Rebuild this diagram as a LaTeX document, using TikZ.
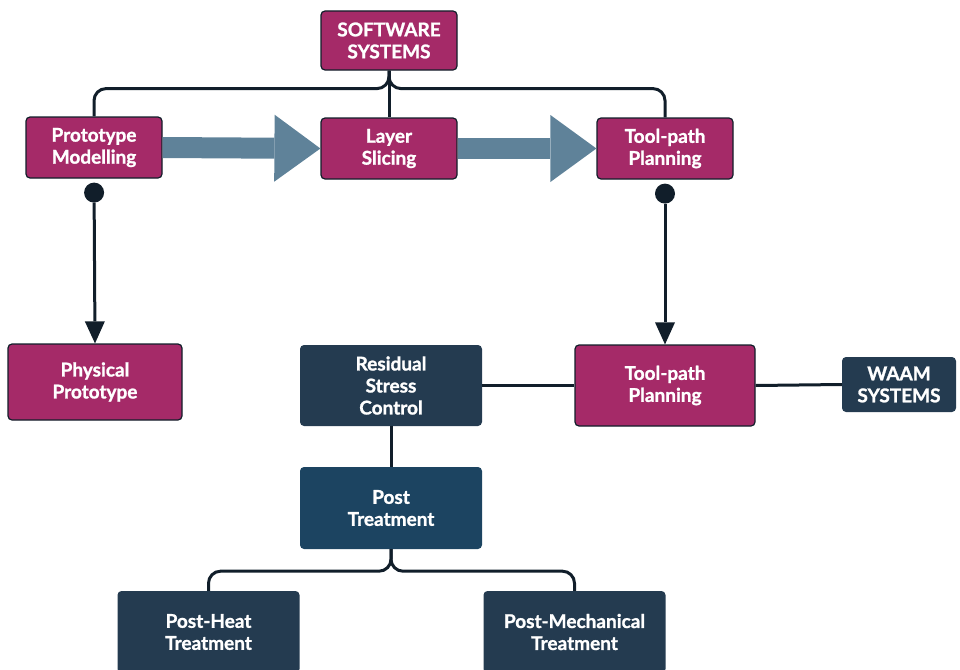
\documentclass[tikz,border=0pt]{standalone}
\usepackage{fontspec}
\setmainfont{Lato}[BoldFeatures={FakeBold=1.2}]
\definecolor{plum}{HTML}{A52A68}
\definecolor{navy}{HTML}{243B50}
\definecolor{deepblue}{HTML}{1C4461}
\definecolor{steel}{HTML}{5F8299}
\definecolor{inkline}{HTML}{111E2A}
\usetikzlibrary{arrows.meta, positioning}

\begin{document}
\begin{tikzpicture}[x=1pt, y=-1pt,
  every node/.style={font=\fontsize{19}{22}\selectfont\bfseries, text=white, align=center},
  softbox/.style={draw=inkline, line width=1.2pt, fill=plum, rounded corners=4pt,
                  minimum width=136pt, minimum height=61pt, inner sep=0pt},
  waambox/.style={fill=navy, rounded corners=4pt,
                  minimum width=182pt, minimum height=81pt, inner sep=0pt},
  link/.style={draw=inkline, line width=3pt},
  flow/.style={draw=steel, line width=21pt, -{Triangle[length=46pt, width=67pt, line width=0pt]}},
  dotarrow/.style={link, {Circle[length=20pt, line width=0pt]}-{Triangle[length=22pt, width=20pt, line width=0pt]},
                   shorten <=4pt},
]
  \useasboundingbox (0,0) rectangle (960,669);

  % Software side
  \node[softbox, minimum height=59pt] (soft) at (389,40.5) {SOFTWARE\\SYSTEMS};
  \node[softbox] (proto) at (94,147.5) {Prototype\\Modelling};
  \node[softbox] (slice) at (389,148.5) {Layer\\Slicing};
  \node[softbox] (pathtop) at (665,148.5) {Tool-path\\Planning};
  \node[softbox, minimum width=174pt, minimum height=76pt] (phys) at (95,382) {Physical\\Prototype};
  \node[softbox, minimum width=180pt, minimum height=81pt] (pathmid) at (665,385.5) {Tool-path\\Planning};

  % WAAM side
  \node[waambox] (resid) at (391,385.5) {Residual\\Stress\\Control};
  \node[waambox, fill=deepblue, minimum height=82pt] (post) at (391,508) {Post\\Treatment};
  \node[waambox, minimum width=114pt, minimum height=55pt] (waam) at (899,384.5) {WAAM\\SYSTEMS};
  \node[waambox, minimum height=82pt] (heat) at (208.5,632) {Post-Heat\\Treatment};
  \node[waambox, minimum height=82pt] (mech) at (574.5,632) {Post-Mechanical\\Treatment};

  % Branches
  \draw[link, rounded corners=12pt] (soft.south) -- ++(0,18) -| (proto.north);
  \draw[link, rounded corners=12pt] (soft.south) -- ++(0,18) -| (pathtop.north);
  \draw[link] (soft.south) -- (slice.north);
  \draw[link, rounded corners=12pt] (post.south) -- ++(0,22) -| (heat.north);
  \draw[link, rounded corners=12pt] (post.south) -- ++(0,22) -| (mech.north);

  % Flow arrows
  \draw[flow] (proto.east) -- (slice.west);
  \draw[flow] (slice.east) -- (pathtop.west);
  \draw[dotarrow] (proto.south) -- (phys.north);
  \draw[dotarrow] (pathtop.south) -- (pathmid.north);

  % Plain links
  \draw[link] (resid.east) -- (pathmid.west);
  \draw[link] (pathmid.east) -- (waam.west);
  \draw[link] (resid.south) -- (post.north);
\end{tikzpicture}
\end{document}
